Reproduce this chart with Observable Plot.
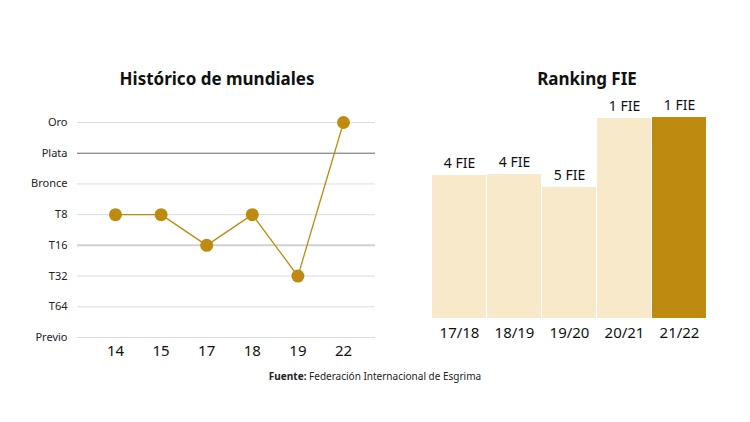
<!DOCTYPE html>
<html><head><meta charset="utf-8">
<script src="https://cdn.jsdelivr.net/npm/d3@7"></script>
<script src="https://cdn.jsdelivr.net/npm/@observablehq/plot@0.6"></script>
<style>
body{margin:0;background:#fff;font-family:"Noto Sans",sans-serif;}
#wrap{position:relative;width:750px;height:422px;background:#fff;}
.t{position:absolute;font-weight:bold;font-size:17px;color:#111;text-align:center;z-index:2;}
#cap{position:absolute;left:0;width:750px;top:369px;text-align:center;font-size:10px;color:#222;}
#left,#right{position:absolute;}
svg{display:block;}
</style></head><body>
<div id="wrap">
<div class="t" style="left:17px;width:400px;top:67px;">Histórico de mundiales</div>
<div class="t" style="left:437px;width:300px;top:67px;">Ranking FIE</div>
<div id="left" style="left:0px;top:100px"></div>
<div id="right" style="left:400px;top:80px"></div>
<div id="cap"><b>Fuente:</b> Federación Internacional de Esgrima</div>
</div>
<script>
const levels = ["Oro","Plata","Bronce","T8","T16","T32","T64","Previo"];
const years = ["14","15","17","18","19","22"];
const results = ["T8","T8","T16","T8","T32","Oro"];
const seasons = ["17/18","18/19","19/20","20/21","21/22"];
const rankValues = [143,144,131,200,201];
const rankLabels = ["4 FIE","4 FIE","5 FIE","1 FIE","1 FIE"];
const gold = "#BE8A10", light = "#F8E9CA";

const line = years.map((y,i)=>({year:y, level:results[i]}));
const gridStroke = l => l==="Plata" ? "#666" : (l==="T16" ? "#d0d0d0" : "#dcdcdc");
const gridWidth = l => l==="T16" ? 2 : 1;

const left = Plot.plot({
  width:390, height:270, marginLeft:77, marginRight:15, marginTop:22, marginBottom:33,
  style:{fontFamily:"Noto Sans, sans-serif", background:"transparent"},
  x:{type:"point", domain:years, padding:0, round:false, insetLeft:38, insetRight:32, label:null},
  y:{type:"point", domain:levels, padding:0, round:false, label:null},
  marks:[
    Plot.ruleY(levels, {y:d=>d, stroke:gridStroke, strokeWidth:gridWidth}),
    Plot.axisY({tickSize:0, tickPadding:10, fontSize:11, fill:"#222"}),
    Plot.axisX({tickSize:0, tickPadding:8, fontSize:15, fill:"#111"}),
    Plot.line(line, {x:"year", y:"level", stroke:gold, strokeWidth:1.3}),
    Plot.dot(line, {x:"year", y:"level", r:6.5, fill:gold})
  ]
});
document.getElementById("left").append(left);

const bars = seasons.map((s,i)=>({season:s, v:rankValues[i], label:rankLabels[i], last:i===seasons.length-1}));
const right = Plot.plot({
  width:350, height:278, marginLeft:31, marginRight:42, marginTop:37, marginBottom:40,
  style:{fontFamily:"Noto Sans, sans-serif", background:"transparent"},
  x:{type:"band", domain:seasons, padding:0.015, label:null},
  y:{domain:[0,201], axis:null},
  marks:[
    Plot.barY(bars, {x:"season", y:"v", fill:d=>d.last?gold:light}),
    Plot.text(bars, {x:"season", y:"v", text:"label", dy:-12, fontSize:14, fill:"#111"}),
    Plot.axisX({tickSize:0, tickPadding:9, fontSize:15, fill:"#111"})
  ]
});
document.getElementById("right").append(right);
</script>
</body></html>
